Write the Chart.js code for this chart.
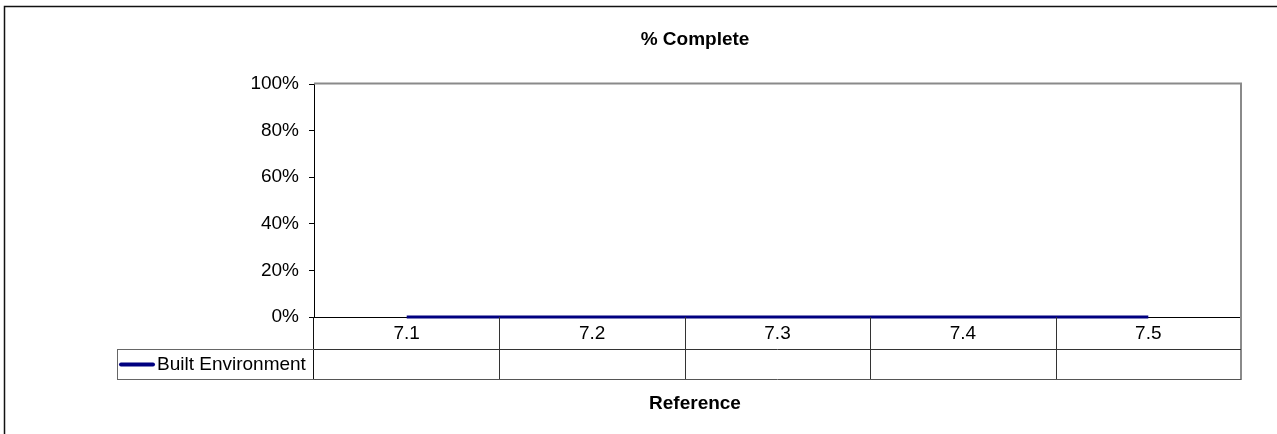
<!DOCTYPE html>
<html><head><meta charset="utf-8">
<script src="https://cdn.jsdelivr.net/npm/chart.js@4"></script>
<style>html,body{margin:0;padding:0;background:#fff;overflow:hidden}canvas{display:block}</style>
</head><body>
<canvas id="c" width="1277" height="434"></canvas>
<script>
const categories = ['7.1', '7.2', '7.3', '7.4', '7.5'];
const builtEnvironment = [0, 0, 0, 0, 0];
const seriesName = 'Built Environment';
const yTickLabels = ['0%', '20%', '40%', '60%', '80%', '100%'];
const chartTitle = '% Complete';
const xAxisTitle = 'Reference';

const FONT = "'Liberation Sans', Arial, sans-serif";
const FS = 19;
const SERIES_COLOR = '#000080';
Chart.defaults.font.family = FONT;
Chart.defaults.color = '#000';

function line(ctx, x1, y1, x2, y2, color, w) {
  ctx.save();
  ctx.strokeStyle = color; ctx.lineWidth = w;
  ctx.beginPath(); ctx.moveTo(x1, y1); ctx.lineTo(x2, y2); ctx.stroke();
  ctx.restore();
}

const framePlugin = {
  id: 'frame',
  beforeDraw(chart) {
    const ctx = chart.ctx;
    ctx.save();
    ctx.fillStyle = '#fff';
    ctx.fillRect(0, 0, chart.width, chart.height);
    ctx.strokeStyle = '#111';
    ctx.lineWidth = 1.5;
    ctx.strokeRect(4.5, 6.5, chart.width + 200, chart.height + 200);
    ctx.restore();
  },
  afterDraw(chart) {
    const ctx = chart.ctx;
    const a = chart.chartArea;
    const xs = chart.scales.x;
    // plot area border (top/right)
    line(ctx, a.left, a.top - 0.5, a.right + 1, a.top - 0.5, '#8a8a8a', 2);
    line(ctx, a.right, a.top - 1, a.right, a.bottom, '#8a8a8a', 2);
    // data table
    const r0 = a.bottom, r1 = a.bottom + 32, r2 = a.bottom + 62;
    const legendLeft = 117.5;
    const n = categories.length;
    const cw = (xs.right - xs.left) / n;
    line(ctx, xs.left - 0.5, r0, xs.left - 0.5, r2, '#111', 1);
    for (let i = 1; i < n; i++) {
      const bx = Math.round(xs.left + i * cw) + 0.5;
      line(ctx, bx, r0, bx, r2, '#333', 1);
    }
    line(ctx, a.right, r0, a.right, r2 + 1, '#8a8a8a', 2);
    line(ctx, xs.left, r1 + 0.5, a.right, r1 + 0.5, '#333', 1);
    line(ctx, xs.left, r2 + 0.5, a.right, r2 + 0.5, '#555', 1);
    // legend cell
    line(ctx, legendLeft, r1 + 0.5, xs.left, r1 + 0.5, '#666', 1);
    line(ctx, legendLeft, r2 + 0.5, xs.left, r2 + 0.5, '#666', 1);
    line(ctx, legendLeft, r1, legendLeft, r2 + 1, '#666', 1);
    const ky = (r1 + r2) / 2 + 0.5;
    ctx.save();
    ctx.strokeStyle = SERIES_COLOR; ctx.lineWidth = 4; ctx.lineCap = 'round';
    ctx.beginPath(); ctx.moveTo(121, ky); ctx.lineTo(153, ky); ctx.stroke();
    ctx.fillStyle = '#000';
    ctx.font = FS + 'px ' + FONT;
    ctx.textAlign = 'left'; ctx.textBaseline = 'middle';
    ctx.fillText(seriesName, 157, ky);
    ctx.restore();
  }
};

new Chart(document.getElementById('c'), {
  type: 'line',
  data: {
    labels: categories,
    datasets: [{
      label: seriesName,
      data: builtEnvironment,
      borderColor: SERIES_COLOR,
      backgroundColor: SERIES_COLOR,
      borderWidth: 3,
      pointRadius: 0,
      tension: 0,
      fill: false,
      clip: false
    }]
  },
  options: {
    responsive: false,
    animation: false,
    layout: { padding: { left: 149, right: 36, top: 0, bottom: 0 } },
    plugins: {
      legend: { display: false },
      tooltip: { enabled: false },
      title: {
        display: true, text: chartTitle, color: '#000',
        font: { size: FS, weight: 'bold' },
        padding: { top: 28.6, bottom: 32.6 }
      },
      subtitle: {
        display: true, position: 'bottom', text: xAxisTitle, color: '#000',
        font: { size: FS, weight: 'bold' },
        padding: { top: 4.6, bottom: 18.6 }
      }
    },
    scales: {
      x: {
        type: 'category',
        offset: true,
        grid: { drawOnChartArea: false, drawTicks: false, offset: true },
        border: { color: '#000', width: 1 },
        ticks: { font: { size: FS }, color: '#000', padding: 5, maxRotation: 0, autoSkip: false },
        afterFit(s) { s.height = 71; }
      },
      y: {
        min: 0, max: 100,
        ticks: {
          stepSize: 20, font: { size: FS }, color: '#000', padding: 10,
          callback: (v, i) => yTickLabels[i]
        },
        grid: { drawOnChartArea: false, drawTicks: true, tickLength: 5, tickColor: '#000' },
        border: { color: '#000', width: 1 },
        afterFit(s) { s.width = 165; }
      }
    }
  },
  plugins: [framePlugin]
});
</script>
</body></html>
